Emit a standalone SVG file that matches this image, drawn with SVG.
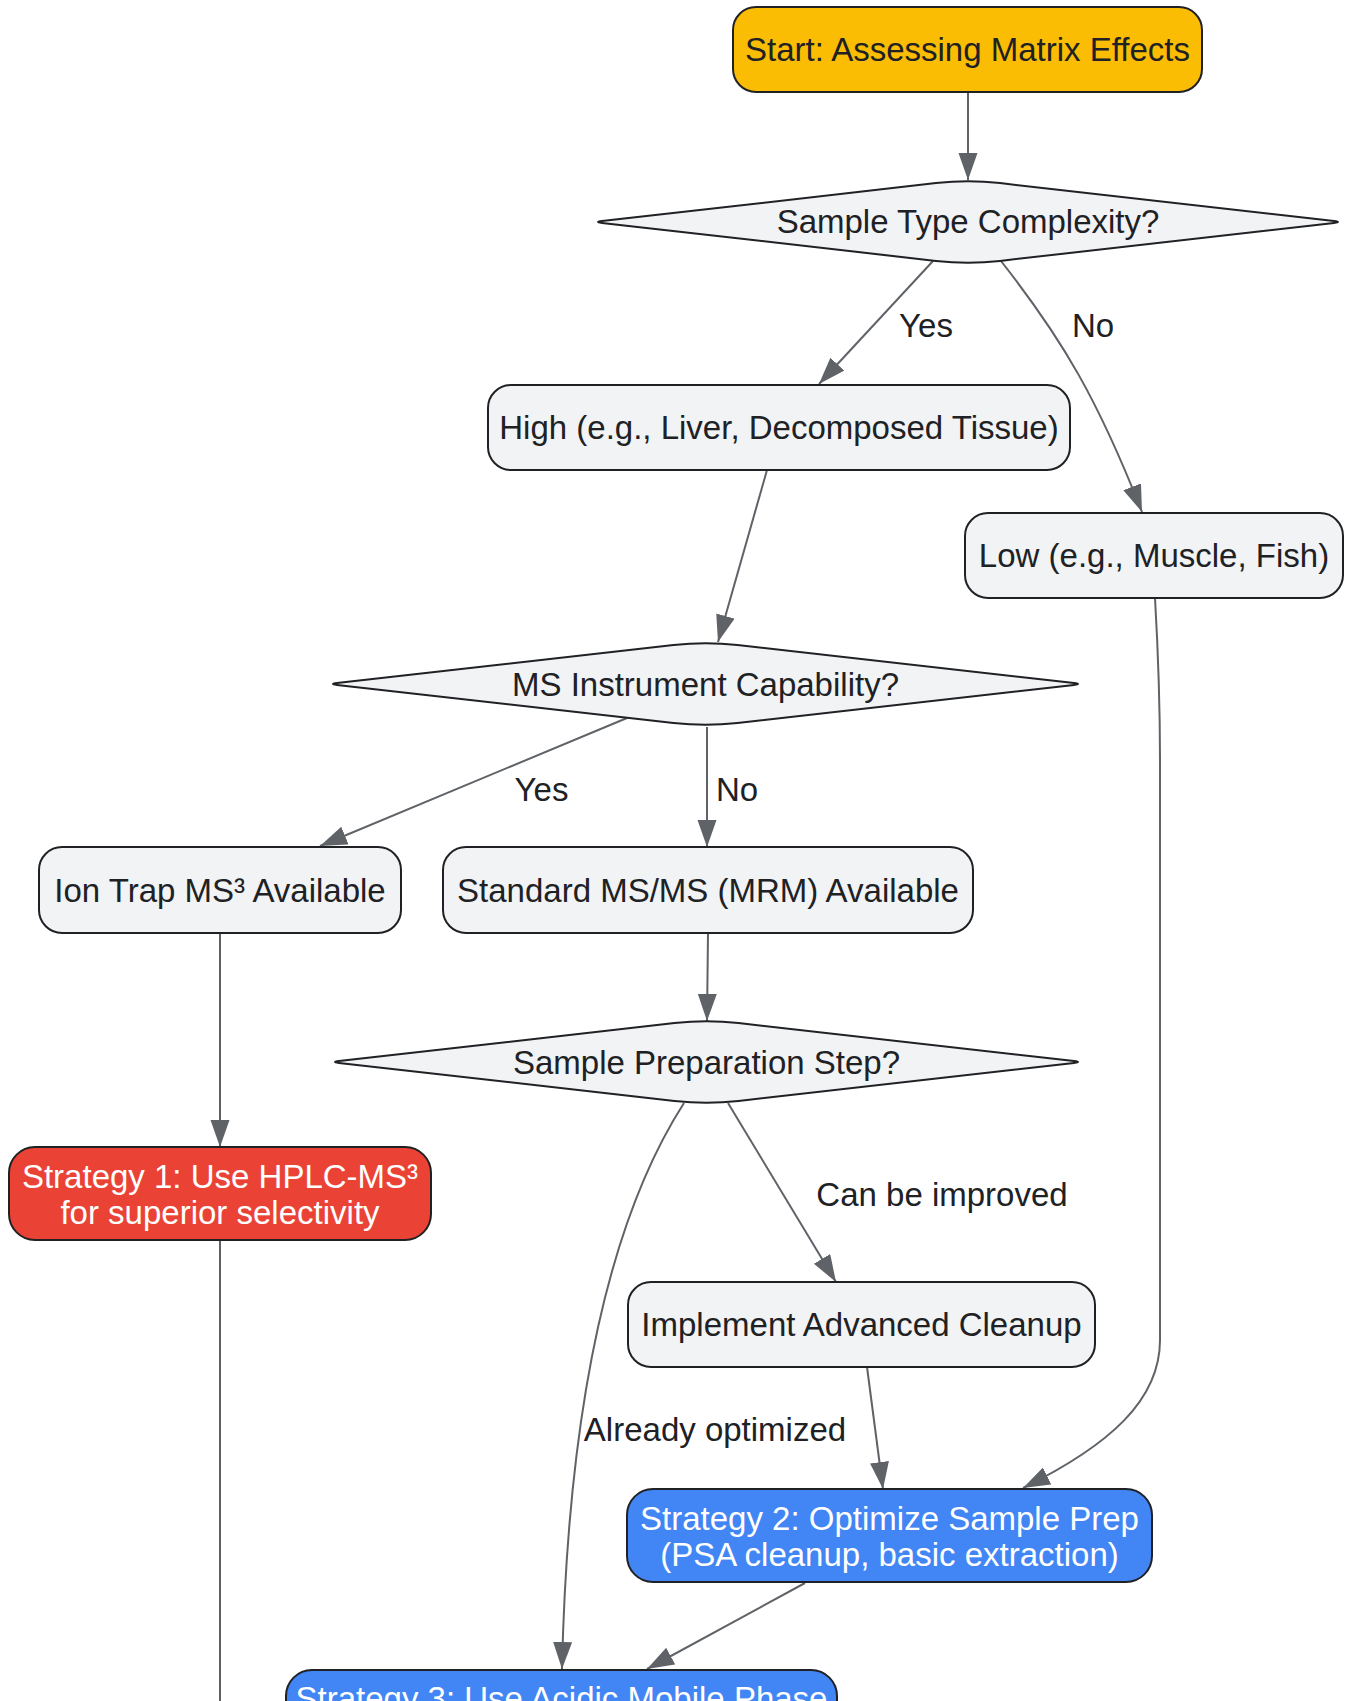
<svg xmlns="http://www.w3.org/2000/svg" width="1353" height="1701" viewBox="0 0 1353 1701">
<defs>
<marker id="arr" markerUnits="userSpaceOnUse" markerWidth="28" markerHeight="20" refX="27" refY="9.5" orient="auto">
<path d="M0,0 L27,9.5 L0,19 Z" fill="#5F6368"/>
</marker>
<style>
.node{fill:#F1F3F4;stroke:#202124;stroke-width:2}
.start{fill:#FBBC04;stroke:#202124;stroke-width:2}
.red{fill:#EA4335;stroke:#202124;stroke-width:2}
.blue{fill:#4285F4;stroke:#202124;stroke-width:2}
text{font-family:"Liberation Sans",Arial,sans-serif;font-size:33px;text-anchor:middle;fill:#202124}
.w{fill:#FFFFFF}
.edge{fill:none;stroke:#5F6368;stroke-width:2;marker-end:url(#arr)}
.plain{fill:none;stroke:#5F6368;stroke-width:2}
</style>
</defs>
<rect width="1353" height="1701" fill="#FFFFFF"/>
<g id="connectors">
<path class="edge" d="M968,92 L968,180"/>
<path class="edge" d="M933,261 L819,384"/>
<path class="edge" d="M1001,261 C1063,340 1098,400 1142,512"/>
<path class="edge" d="M767,470 L718,642"/>
<path class="edge" d="M627,718 L320,846"/>
<path class="edge" d="M707,727 L707,847"/>
<path class="edge" d="M220,933 L220,1147"/>
<path class="edge" d="M708,933 L707,1021"/>
<path class="edge" d="M728,1103 L836,1282"/>
<path class="edge" d="M684,1103 C612,1215 568,1400 562,1669"/>
<path class="edge" d="M867,1367 L883,1489"/>
<path class="edge" d="M1155,598 C1158,650 1160,700 1160,760 L1160,1340 C1160,1400 1110,1445 1023,1488"/>
<path class="edge" d="M805,1583 L647,1669"/>
<path class="plain" d="M220,1240 L220,1710"/>
<text x="926" y="337">Yes</text>
<text x="1093" y="337">No</text>
<text x="541.5" y="801">Yes</text>
<text x="737" y="801">No</text>
<text x="942" y="1206">Can be improved</text>
<text x="715" y="1441">Already optimized</text>
</g>
<g id="start">
<rect class="start" x="733" y="7" width="469" height="85" rx="23"/>
<text x="967.5" y="61">Start: Assessing Matrix Effects</text>
</g>
<g id="sampleType">
<path class="node" d="M1000,183.1 L1334,221.1 Q1342,222 1334,222.9 L1000,260.9 Q968,264.5 936,260.9 L602,222.9 Q594,222 602,221.1 L936,183.1 Q968,179.5 1000,183.1 Z"/>
<text x="968" y="233">Sample Type Complexity?</text>
</g>
<g id="high">
<rect class="node" x="488" y="385" width="582" height="85" rx="23"/>
<text x="779" y="439">High (e.g., Liver, Decomposed Tissue)</text>
</g>
<g id="low">
<rect class="node" x="965" y="513" width="378" height="85" rx="23"/>
<text x="1154" y="567">Low (e.g., Muscle, Fish)</text>
</g>
<g id="msCap">
<path class="node" d="M737.5,645.1 L1074,683.1 Q1082,684 1074,684.9 L737.5,722.9 Q705.5,726.5 673.5,722.9 L337,684.9 Q329,684 337,683.1 L673.5,645.1 Q705.5,641.5 737.5,645.1 Z"/>
<text x="705.5" y="695.5">MS Instrument Capability?</text>
</g>
<g id="ionTrap">
<rect class="node" x="39" y="847" width="362" height="86" rx="23"/>
<text x="220" y="901.5">Ion Trap MS³ Available</text>
</g>
<g id="standard">
<rect class="node" x="443" y="847" width="530" height="86" rx="23"/>
<text x="708" y="901.5">Standard MS/MS (MRM) Available</text>
</g>
<g id="samplePrep">
<path class="node" d="M738.5,1023.1 L1074,1061.1 Q1082,1062 1074,1062.9 L738.5,1100.9 Q706.5,1104.5 674.5,1100.9 L339,1062.9 Q331,1062 339,1061.1 L674.5,1023.1 Q706.5,1019.5 738.5,1023.1 Z"/>
<text x="706.5" y="1073.5">Sample Preparation Step?</text>
</g>
<g id="strategy1">
<rect class="red" x="9" y="1147" width="422" height="93" rx="26"/>
<text class="w" x="220" y="1188">Strategy 1: Use HPLC-MS³</text>
<text class="w" x="220" y="1224">for superior selectivity</text>
</g>
<g id="cleanup">
<rect class="node" x="628" y="1282" width="467" height="85" rx="23"/>
<text x="861.5" y="1336">Implement Advanced Cleanup</text>
</g>
<g id="strategy2">
<rect class="blue" x="627" y="1489" width="525" height="93" rx="26"/>
<text class="w" x="889.5" y="1530">Strategy 2: Optimize Sample Prep</text>
<text class="w" x="889.5" y="1566">(PSA cleanup, basic extraction)</text>
</g>
<g id="strategy3">
<rect class="blue" x="286" y="1670" width="551" height="93" rx="26"/>
<text class="w" x="561.5" y="1710">Strategy 3: Use Acidic Mobile Phase</text>
</g>
</svg>
